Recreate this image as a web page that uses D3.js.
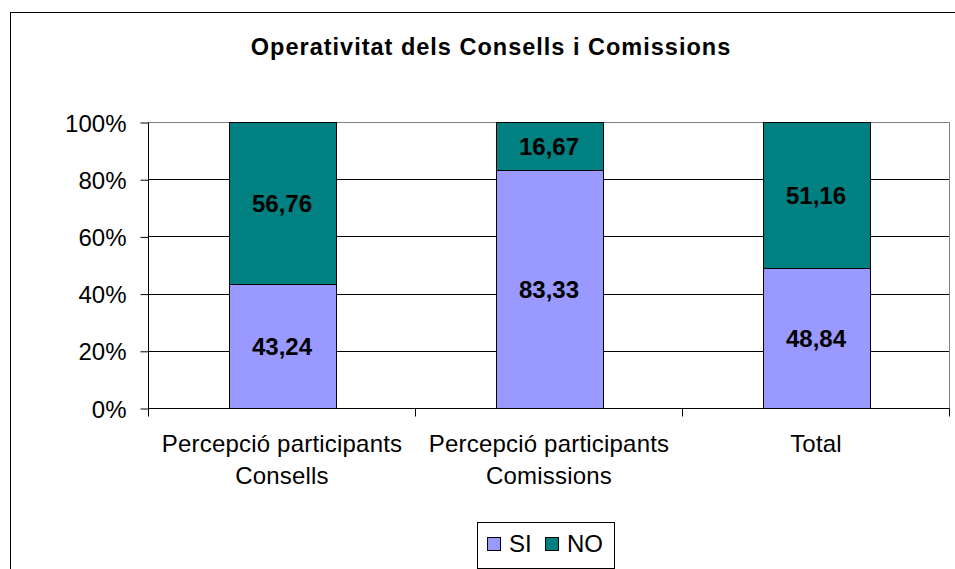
<!DOCTYPE html>
<html><head><meta charset="utf-8">
<script src="https://cdn.jsdelivr.net/npm/d3@7"></script>
<style>
html,body{margin:0;padding:0;background:#fff;}
svg{display:block;font-family:"Liberation Sans",Arial,sans-serif;}
</style></head>
<body>
<svg id="c" width="955" height="569"></svg>
<script>
const title = "Operativitat dels Consells i Comissions";
const categories = [["Percepció participants","Consells"],["Percepció participants","Comissions"],["Total"]];
const seriesNames = ["SI","NO"];
const siValues = [43.24, 83.33, 48.84];
const noValues = [56.76, 16.67, 51.16];
const yTicks = [0,20,40,60,80,100];
const colors = {SI:"#9999FF", NO:"#008080"};

const svg = d3.select("#c");
const L = 148.5, R = 949.5, T = 122.5, B = 408.5;

// outer frame
svg.append("rect").attr("x",10.5).attr("y",12.5).attr("width",980).attr("height",600)
  .attr("fill","#fff").attr("stroke","#000").attr("stroke-width",1);

svg.append("text").attr("x",491).attr("y",55).attr("text-anchor","middle")
  .attr("font-size",23.5).attr("font-weight","bold").attr("letter-spacing","1px")
  .text(title);

const keys = categories.map((c,i)=>i);
const xOuter = d3.scaleBand().domain(keys).range([L,R]).padding(0);
const x = d3.scaleBand().domain(keys).range([L,R]).paddingInner(0.6).paddingOuter(0.3);
const y = d3.scaleLinear().domain([0,100]).range([B,T]);

// gridlines
svg.append("g").selectAll("line").data(yTicks.filter(d=>d>0 && d<100)).join("line")
  .attr("x1",L).attr("x2",R).attr("y1",d=>Math.round(y(d)-0.5)+0.5).attr("y2",d=>Math.round(y(d)-0.5)+0.5)
  .attr("stroke","#000").attr("stroke-width",1);

// plot border (grey) top & right
svg.append("path").attr("d",`M${L},${T}H${R}V${B}`).attr("fill","none").attr("stroke","#808080").attr("stroke-width",1);

// stacked data
const rows = keys.map(i=>({i, SI:siValues[i], NO:noValues[i]}));
const stack = d3.stack().keys(seriesNames)(rows);

const g = svg.append("g");
stack.forEach(layer=>{
  g.selectAll(null).data(layer).join("rect")
    .attr("x",d=>Math.round(x(d.data.i))+0.5)
    .attr("width",Math.round(x.bandwidth()))
    .attr("y",d=>Math.round(y(d[1])-0.5)+0.5)
    .attr("height",d=>Math.round(y(d[0])-0.5)-Math.round(y(d[1])-0.5))
    .attr("fill",colors[layer.key]).attr("stroke","#000").attr("stroke-width",1);
});
stack.forEach(layer=>{
  g.selectAll(null).data(layer).join("text")
    .attr("x",d=>x(d.data.i)+x.bandwidth()/2)
    .attr("y",d=>(y(d[0])+y(d[1]))/2+8.5)
    .attr("text-anchor","middle").attr("font-size",24).attr("font-weight","bold")
    .text(d=>d3.format(".2f")(d[1]-d[0]).replace(".",","));
});

// y axis
const yAxis = d3.axisLeft(y).tickValues(yTicks).tickSize(8).tickPadding(14).tickFormat(d=>d+"%");
const ya = svg.append("g").attr("transform",`translate(${L},0)`).call(yAxis);
ya.select(".domain").attr("d",`M0,${T}V${B}`).attr("stroke","#000");
ya.selectAll(".tick line").attr("stroke","#000");
ya.selectAll(".tick text").attr("font-size",24).attr("fill","#000").attr("font-family","Liberation Sans, Arial, sans-serif").attr("dy","0.36em");

// x axis baseline and ticks
svg.append("line").attr("x1",L).attr("x2",R).attr("y1",B).attr("y2",B).attr("stroke","#000");
const bounds = keys.map(k=>xOuter(k)).concat([R]);
svg.append("g").selectAll("line").data(bounds).join("line")
  .attr("x1",d=>Math.round(d-0.5)+0.5).attr("x2",d=>Math.round(d-0.5)+0.5)
  .attr("y1",B).attr("y2",B+8).attr("stroke","#000");

// category labels
const cl = svg.append("g");
categories.forEach((lines,i)=>{
  const t = cl.append("text").attr("x",xOuter(i)+xOuter.bandwidth()/2).attr("y",452)
    .attr("text-anchor","middle").attr("font-size",24).attr("letter-spacing","0.2px");
  lines.forEach((ln,j)=>t.append("tspan").attr("x",xOuter(i)+xOuter.bandwidth()/2).attr("y",452+j*32).text(ln));
});

// legend
const lg = svg.append("g");
lg.append("rect").attr("x",477.5).attr("y",522.5).attr("width",137).attr("height",46)
  .attr("fill","#fff").attr("stroke","#000");
const legendItems = [{k:"SI",sx:487.5,tx:509},{k:"NO",sx:545.5,tx:567}];
legendItems.forEach(it=>{
  lg.append("rect").attr("x",it.sx).attr("y",537.5).attr("width",13).attr("height",13)
    .attr("fill",colors[it.k]).attr("stroke","#000");
  lg.append("text").attr("x",it.tx).attr("y",552).attr("font-size",24).text(it.k);
});
</script>
</body></html>
